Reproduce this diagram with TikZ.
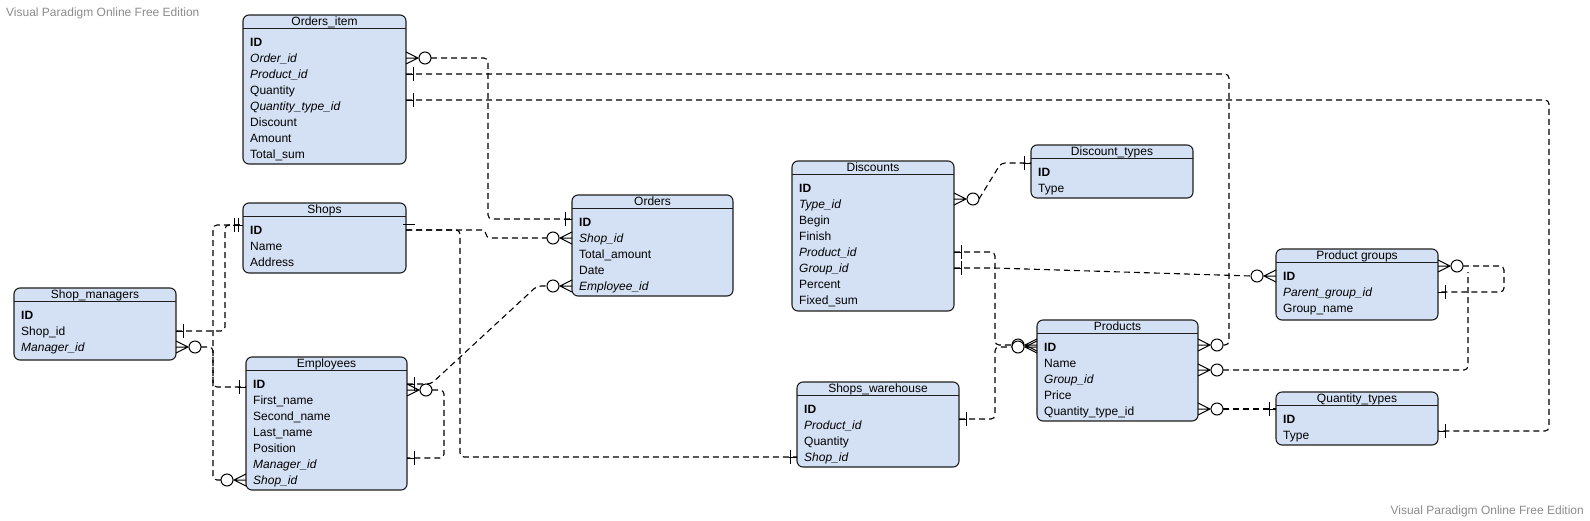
\documentclass[tikz,border=0pt]{standalone}
\usepackage{fontspec}
\setmainfont{Liberation Sans}
\usetikzlibrary{calc}
\definecolor{efill}{RGB}{212,225,245}
\definecolor{eborder}{RGB}{30,30,30}
\definecolor{wm}{RGB}{140,140,140}
\tikzset{
 ebox/.style={draw=eborder, fill=efill, line width=1.1pt, rounded corners=6pt, inner sep=0pt, outer sep=0pt},
 etitle/.style={inner sep=0pt, anchor=base, font=\fontsize{12pt}{14pt}\selectfont},
 erow/.style={inner sep=0pt, anchor=base west, text height=10pt, text depth=2pt, font=\fontsize{12pt}{14pt}\selectfont},
 eline/.style={draw=eborder, line width=0.9pt},
 conn/.style={draw=black, line width=1.1pt, dash pattern=on 6pt off 4pt, rounded corners=4pt},
 endmark/.style={draw=black, line width=1pt, solid},
 pics/zmany/.style={code={\draw[endmark] (0,-6) -- (12,0) -- (0,6) (0,0) -- (12,0); \draw[endmark, fill=white] (19,0) circle[radius=6pt];}},
 pics/one/.style={code={\draw[endmark] (0,0) -- (8,0) (7,-7) -- (7,7);}},
 pics/onetwo/.style={code={\draw[endmark] (0,0) -- (10,0) (5,-7) -- (5,7) (9,-7) -- (9,7);}},
 wmark/.style={inner sep=0pt, text=wm, font=\fontsize{12pt}{14pt}\selectfont},
}
\newcommand\erent[7]{%
 \node[ebox, minimum width=#4pt, minimum height=#5pt, anchor=north west] (#1) at (#2,#3) {};
 \node[etitle] (#1-t) at ($(#1.north)+(0,10)$) {#6};
 \draw[eline] ($(#1.north west)+(0,13.5)$) -- ($(#1.north east)+(0,13.5)$);
 \foreach \r [count=\i from 0] in {#7} {
  \node[erow] (#1-\i) at ($(#1.north west)+(7,31+16*\i)$) {\r};
 }
}
\begin{document}
\begin{tikzpicture}[x=1pt,y=-1pt]
\useasboundingbox (0,0) rectangle (1590,520);
\fill[white] (0,0) rectangle (1590,520);
\node[wmark, anchor=base west] (wm1) at (6,16) {Visual Paradigm Online Free Edition};
\node[wmark, anchor=base east] (wm2) at (1584,514) {Visual Paradigm Online Free Edition};

\erent{orders_item}{243}{15}{163}{149}{Orders\_item}{\textbf{ID},\textit{Order\_id},\textit{Product\_id},Quantity,\textit{Quantity\_type\_id},Discount,Amount,Total\_sum}
\erent{shops}{243}{203}{163}{70}{Shops}{\textbf{ID},Name,Address}
\erent{shop_managers}{14}{288}{162}{72}{Shop\_managers}{\textbf{ID},Shop\_id,\textit{Manager\_id}}
\erent{employees}{246}{357}{161}{133}{Employees}{\textbf{ID},First\_name,Second\_name,Last\_name,Position,\textit{Manager\_id},\textit{Shop\_id}}
\erent{orders}{572}{195}{161}{101}{Orders}{\textbf{ID},\textit{Shop\_id},Total\_amount,Date,\textit{Employee\_id}}
\erent{discounts}{792}{161}{162}{150}{Discounts}{\textbf{ID},\textit{Type\_id},Begin,Finish,\textit{Product\_id},\textit{Group\_id},Percent,Fixed\_sum}
\erent{discount_types}{1031}{145}{162}{53}{Discount\_types}{\textbf{ID},Type}
\erent{product_groups}{1276}{249}{162}{71}{Product groups}{\textbf{ID},\textit{Parent\_group\_id},Group\_name}
\erent{products}{1037}{320}{161}{101}{Products}{\textbf{ID},Name,\textit{Group\_id},Price,Quantity\_type\_id}
\erent{quantity_types}{1276}{392}{162}{53}{Quantity\_types}{\textbf{ID},Type}
\erent{shops_warehouse}{797}{382}{162}{85}{Shops\_warehouse}{\textbf{ID},\textit{Product\_id},Quantity,\textit{Shop\_id}}

% coordinates
\coordinate (c1a) at (orders_item.east |- orders_item-1);
\coordinate (c1b) at ($(orders.west |- orders-0)+(0,-3)$);
\coordinate (c2a) at (orders_item.east |- orders_item-2);
\coordinate (c2b) at ($(products.east |- products-0)+(0,-2)$);
\coordinate (c3a) at ($(orders_item.east |- orders_item-4)+(0,-6)$);
\coordinate (c3b) at ($(quantity_types.east |- quantity_types-1)+(0,-4)$);
\coordinate (c4a) at (shop_managers.east |- shop_managers-1);
\coordinate (c4b) at ($(shops.west |- shops-0)+(0,-5)$);
\coordinate (c5a) at (employees.west |- employees-6);
\coordinate (c6a) at (shop_managers.east |- shop_managers-2);
\coordinate (c6b) at ($(employees.west |- employees-0)+(0,3)$);
\coordinate (c7a) at (shops.east |- shops-0);
\coordinate (c7b) at (orders.west |- orders-1);
\coordinate (c8b) at (shops_warehouse.west |- shops_warehouse-3);
\coordinate (c9a) at (employees.east |- employees-0);
\coordinate (c9b) at (orders.west |- orders-4);
\coordinate (c10a) at ($(employees.east |- employees-0)+(0,6)$);
\coordinate (c10b) at ($(employees.east |- employees-5)+(0,-6)$);
\coordinate (c11a) at ($(discounts.east |- discounts-1)+(0,-5)$);
\coordinate (c11b) at ($(discount_types.west |- discount_types-0)+(0,-9)$);
\coordinate (c12a) at (discounts.east |- discounts-4);
\coordinate (c12b) at ($(products.west |- products-0)+(0,-2)$);
\coordinate (c13a) at ($(shops_warehouse.east |- shops_warehouse-1)+(0,-6)$);
\coordinate (c13b) at (products.west |- products-0);
\coordinate (c14a) at (discounts.east |- discounts-5);
\coordinate (c14b) at (product_groups.west |- product_groups-0);
\coordinate (c15a) at ($(products.east |- products-1)+(0,7)$);
\coordinate (c16a) at ($(product_groups.east |- product_groups-0)+(0,-10)$);
\coordinate (c16b) at (product_groups.east |- product_groups-1);
\coordinate (c17a) at ($(products.east |- products-4)+(0,-2)$);
\coordinate (c17b) at ($(quantity_types.west |- quantity_types-0)+(0,-10)$);

% connectors
\draw[conn] ($(c1a)+(25,0)$) -- ++(57,0) |- (c1b);
\draw[conn] (c2a) -| ($(c2b)+(31,0)$) -- ($(c2b)+(25,0)$);
\draw[conn] (c3a) -| ($(c3b)+(111,0)$) -- (c3b);
\draw[conn] (c4a) -- ++(49,0) |- (c4b);
\draw[conn] ($(c5a)+(-25,0)$) -- ++(-8,0) |- (c4b);
\draw[conn] ($(c6a)+(25,0)$) -- ++(12,0) |- (c6b);
\draw[conn] (c7a) -- ++(80,0) |- ($(c7b)+(-25,0)$);
\draw[conn] (c7a) -- ++(54,0) |- (c8b);
\draw[conn] (c9a) -- ++(24,0) -- ($(c9b)+(-35,0)$) -- ($(c9b)+(-25,0)$);
\draw[conn] ($(c10a)+(25,0)$) -- ++(12,0) |- (c10b);
\draw[conn] ($(c11a)+(25,0)$) -- ($(c11b)+(-30,0)$) -- (c11b);
\draw[conn] (c12a) -- ++(41,0) |- ($(c12b)+(-25,0)$);
\draw[conn] (c13a) -- ++(36,0) |- ($(c13b)+(-25,0)$);
\draw[conn] (c14a) -- ++(40,0) -- ($(c14b)+(-25,0)$);
\draw[conn] ($(c15a)+(25,0)$) -| ($(c16a)+(30,6)$);
\draw[conn] ($(c16a)+(25,0)$) -- ++(41,0) |- (c16b);
\draw[conn] ($(c17a)+(25,0)$) -- (c17b);

% end marks
\pic at (c1a) {zmany};
\pic[rotate=180] at (c1b) {one};
\pic at (c2a) {one};
\pic at (c2b) {zmany};
\pic at (c3a) {one};
\pic at (c3b) {one};
\pic at (c4a) {one};
\pic[rotate=180] at (c4b) {onetwo};
\pic[rotate=180] at (c5a) {zmany};
\pic at (c6a) {zmany};
\pic[rotate=180] at (c6b) {one};
\draw[endmark] ($(c7a)+(-3,-6)$) -- ++(12,0);
\pic[rotate=180] at (c7b) {zmany};
\pic[rotate=180] at (c8b) {one};
\pic at (c9a) {one};
\pic[rotate=180] at (c9b) {zmany};
\pic at (c10a) {zmany};
\pic at (c10b) {one};
\pic at (c11a) {zmany};
\pic[rotate=180] at (c11b) {one};
\pic at (c12a) {one};
\pic[rotate=180] at (c12b) {zmany};
\pic at (c13a) {one};
\pic[rotate=180] at (c13b) {zmany};
\pic at (c14a) {one};
\pic[rotate=180] at (c14b) {zmany};
\pic at (c15a) {zmany};
\pic at (c16a) {zmany};
\pic at (c16b) {one};
\pic at (c17a) {zmany};
\pic[rotate=180] at (c17b) {one};
\end{tikzpicture}
\end{document}
